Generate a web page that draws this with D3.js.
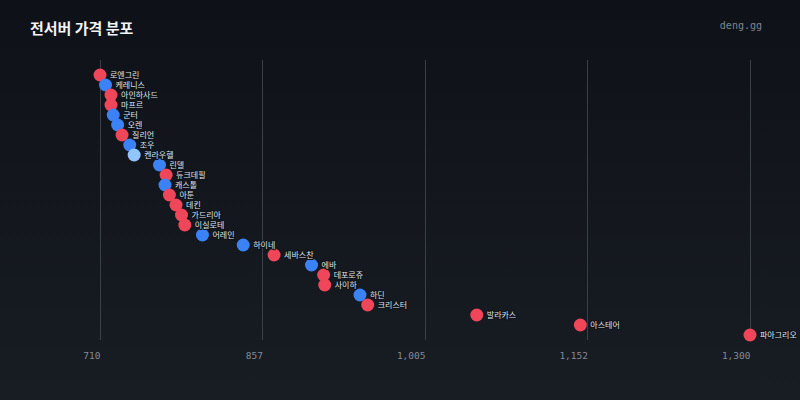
<!DOCTYPE html>
<html>
<head>
<meta charset="utf-8">
<script src="https://cdn.jsdelivr.net/npm/d3@7"></script>
<style>
  html, body { margin: 0; padding: 0; background: #11141b; }
  svg { display: block; }
</style>
</head>
<body>
<svg id="chart" width="800" height="400"></svg>
<script>
// server names, sorted by price
var servers = ["로엔그린", "케레니스", "아인하사드", "마프르", "군터", "오렌", "질리언", "조우", "켄라우헬",
  "린델", "듀크데필", "캐스톨", "아툰", "데킨", "가드리아", "이실로테", "어레인", "하이네", "세바스찬",
  "에바", "데포로쥬", "사이하", "하딘", "크리스터", "발라카스", "아스테어", "파아그리오"];
var prices = [710, 715, 720, 720, 722, 726, 730, 737, 741,
  764, 770, 769, 773, 779, 784, 787, 803, 840, 868,
  902, 913, 914, 946, 953, 1052, 1146, 1300];
// group: r = red, b = blue, l = light blue
var groups = ["r", "b", "r", "r", "b", "b", "r", "b", "l",
  "b", "r", "b", "r", "r", "r", "r", "b", "b", "r",
  "b", "r", "r", "b", "r", "r", "r", "r"];
var tickValues = [710, 857.5, 1005, 1152.5, 1300];
var tickLabels = ["710", "857", "1,005", "1,152", "1,300"];

var colors = { r: "#f0465a", b: "#3b82f6", l: "#93c5fd" };

var svg = d3.select("#chart");

var defs = svg.append("defs");
var grad = defs.append("linearGradient")
  .attr("id", "bg").attr("x1", 0).attr("y1", 0).attr("x2", 0).attr("y2", 1);
grad.append("stop").attr("offset", "0%").attr("stop-color", "#0e1118");
grad.append("stop").attr("offset", "100%").attr("stop-color", "#181c23");
svg.append("rect").attr("width", 800).attr("height", 400).attr("fill", "url(#bg)");

svg.append("text")
  .attr("x", 30).attr("y", 34)
  .attr("font-family", "'Noto Sans CJK KR', 'Noto Sans', sans-serif")
  .attr("font-weight", "bold")
  .attr("font-size", 15)
  .attr("fill", "#f2f4f7")
  .text("전서버 가격 분포");

svg.append("text")
  .attr("x", 762).attr("y", 29)
  .attr("text-anchor", "end")
  .attr("font-family", "'DejaVu Sans Mono', monospace")
  .attr("font-size", 10)
  .attr("fill", "#7f858f")
  .text("deng.gg");

var x = d3.scaleLinear().domain([710, 1300]).range([100, 750]);
var y = d3.scalePoint().domain(servers).range([75, 335]);

// grid
svg.append("g").selectAll("line")
  .data(tickValues)
  .join("line")
  .attr("x1", function (d){ return x(d); })
  .attr("x2", function (d){ return x(d); })
  .attr("y1", 60).attr("y2", 340)
  .attr("stroke", "#3a3f48")
  .attr("stroke-width", 1)
  .attr("shape-rendering", "crispEdges");

// x axis labels
var xAxis = d3.axisBottom(x)
  .tickValues(tickValues)
  .tickFormat(function (d, i){ return tickLabels[i]; })
  .tickSize(0)
  .tickPadding(0);

var axisG = svg.append("g").attr("transform", "translate(0,352)").call(xAxis);
axisG.select(".domain").remove();
axisG.selectAll("text")
  .attr("text-anchor", "end")
  .attr("dx", 0)
  .attr("font-family", "'DejaVu Sans Mono', monospace")
  .attr("font-size", 9.5)
  .attr("fill", "#858b95");

var rows = servers.map(function (s, i){
  return { name: s, price: prices[i], group: groups[i] };
});

var marks = svg.append("g");
marks.selectAll("circle")
  .data(rows)
  .join("circle")
  .attr("cx", function (d){ return x(d.price); })
  .attr("cy", function (d){ return y(d.name); })
  .attr("r", 6.5)
  .attr("fill", function (d){ return colors[d.group]; });

marks.selectAll("text")
  .data(rows)
  .join("text")
  .attr("x", function (d){ return x(d.price) + 10; })
  .attr("y", function (d){ return y(d.name) + 3; })
  .attr("font-family", "'Noto Sans CJK KR', sans-serif")
  .attr("font-size", 8)
  .attr("fill", "#dfe3e9")
  .attr("stroke", "#10131a")
  .attr("stroke-width", 2)
  .attr("paint-order", "stroke")
  .text(function (d){ return d.name; });
</script>
</body>
</html>
